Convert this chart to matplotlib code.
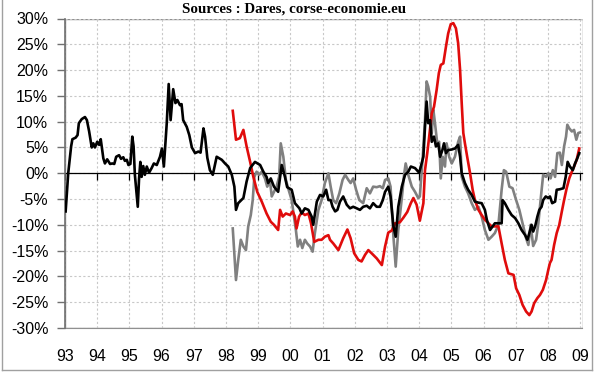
import numpy as np
import matplotlib.pyplot as plt
from matplotlib.patches import Rectangle
from matplotlib.lines import Line2D

# series: decimal years and % values
black_t = [1993.02, 1993.10, 1993.19, 1993.23, 1993.33, 1993.39, 1993.43, 1993.52, 1993.62, 1993.68,
           1993.75, 1993.83, 1993.88, 1993.93, 1994.00, 1994.06, 1994.11, 1994.19, 1994.24, 1994.31,
           1994.40, 1994.47, 1994.53, 1994.59, 1994.68, 1994.74, 1994.81, 1994.86, 1994.92, 1994.97,
           1995.03, 1995.09, 1995.13, 1995.17, 1995.26, 1995.30, 1995.34, 1995.38, 1995.43, 1995.48,
           1995.54, 1995.61, 1995.69, 1995.76, 1995.85, 1995.95, 1996.01, 1996.07, 1996.16, 1996.22,
           1996.28, 1996.36, 1996.43, 1996.49, 1996.57, 1996.62, 1996.67, 1996.78, 1996.86, 1996.94,
           1997.04, 1997.14, 1997.21, 1997.30, 1997.35, 1997.42, 1997.50, 1997.59, 1997.71, 1997.87,
           1997.97, 1998.07, 1998.18, 1998.26, 1998.31, 1998.38, 1998.54, 1998.64, 1998.75, 1998.90,
           1999.06, 1999.16, 1999.26, 1999.31, 1999.39, 1999.49, 1999.62, 1999.73, 1999.83, 1999.90,
           2000.04, 2000.14, 2000.28, 2000.35, 2000.45, 2000.56, 2000.66, 2000.71, 2000.82, 2000.92,
           2001.02, 2001.11, 2001.18, 2001.25, 2001.31, 2001.39, 2001.46, 2001.54, 2001.64, 2001.75,
           2001.85, 2001.95, 2002.06, 2002.16, 2002.26, 2002.37, 2002.47, 2002.57, 2002.68, 2002.78,
           2002.87, 2002.94, 2003.04, 2003.11, 2003.20, 2003.27, 2003.35, 2003.46, 2003.56, 2003.66,
           2003.74, 2003.87, 2004.00, 2004.13, 2004.18, 2004.23, 2004.28, 2004.34, 2004.39, 2004.46,
           2004.52, 2004.59, 2004.65, 2004.72, 2004.77, 2004.83, 2004.90, 2005.01, 2005.11, 2005.21,
           2005.27, 2005.32, 2005.42, 2005.52, 2005.63, 2005.73, 2005.84, 2005.94, 2006.04, 2006.10,
           2006.20, 2006.28, 2006.35, 2006.56, 2006.59, 2006.66, 2006.77, 2006.87, 2006.98, 2007.08,
           2007.18, 2007.29, 2007.36, 2007.42, 2007.49, 2007.54, 2007.60, 2007.67, 2007.73, 2007.80,
           2007.85, 2007.93, 2008.01, 2008.06, 2008.13, 2008.22, 2008.27, 2008.37, 2008.48, 2008.55,
           2008.61, 2008.68, 2008.77, 2008.84, 2008.91, 2008.97]
black_v = [-7.4, 0.0, 5.2, 6.6, 6.9, 7.4, 9.7, 10.5, 10.9, 10.3,
           8.1, 5.0, 5.8, 5.0, 6.1, 5.5, 6.6, 2.9, 1.9, 2.7,
           1.8, 1.9, 1.8, 3.2, 3.5, 2.8, 3.1, 2.4, 2.6, 1.6,
           1.8, 7.1, 5.2, -0.3, -6.5, -1.0, 2.2, -0.7, 1.4, -0.3,
           1.3, 0.1, 1.0, 1.9, 1.6, 3.2, 4.8, 1.3, 9.7, 17.3,
           10.3, 16.3, 13.6, 14.2, 13.2, 13.4, 10.3, 9.0, 7.4, 5.0,
           3.9, 4.2, 4.0, 8.7, 7.1, 3.0, 0.6, -0.3, 3.2, 2.6,
           1.9, 1.3, -0.3, -2.6, -7.1, -5.8, -4.8, -1.6, 1.0, 2.2,
           1.6, 0.3, -0.7, -1.9, -1.0, -2.6, -3.6, 1.6, -0.7, -2.7,
           -3.2, -5.8, -6.8, -7.8, -6.8, -7.1, -8.4, -10.0, -5.5, -4.2,
           -4.5, -3.2, -5.2, -5.2, -6.5, -7.4, -7.1, -5.5, -4.5, -6.1,
           -6.8, -6.5, -6.8, -7.1, -6.5, -6.3, -6.8, -5.8, -6.5, -6.5,
           -5.2, -3.6, -2.6, -4.5, -10.3, -12.3, -6.5, -2.6, -0.3, 0.3,
           1.3, 1.0, 0.1, 3.2, 9.0, 13.9, 9.7, 10.3, 6.1, 7.1,
           5.2, 5.8, 3.2, 4.5, 5.8, 3.9, 4.5, 4.6, 4.8, 5.5,
           3.2, 0.0, -1.9, -3.2, -4.2, -5.5, -5.7, -5.8, -7.1, -9.0,
           -11.0, -10.3, -9.7, -9.7, -5.2, -5.8, -7.1, -8.1, -8.7, -9.7,
           -11.0, -12.0, -12.9, -11.6, -10.0, -11.3, -10.3, -8.4, -7.1, -6.5,
           -5.2, -4.5, -4.8, -4.5, -5.8, -5.5, -3.2, -3.1, -2.9, -0.7,
           2.2, 1.3, 0.6, 1.9, 2.9, 3.9]

grey_t = [1998.21, 1998.31, 1998.38, 1998.46, 1998.54, 1998.62, 1998.69, 1998.77, 1998.83, 1998.88,
          1998.95, 1999.03, 1999.11, 1999.21, 1999.28, 1999.37, 1999.42, 1999.49, 1999.57, 1999.65,
          1999.70, 1999.78, 1999.86, 1999.93, 2000.04, 2000.11, 2000.17, 2000.23, 2000.30, 2000.37,
          2000.45, 2000.52, 2000.61, 2000.69, 2000.76, 2000.87, 2000.97, 2001.07, 2001.18, 2001.25,
          2001.33, 2001.42, 2001.52, 2001.62, 2001.70, 2001.80, 2001.87, 2001.95, 2002.04, 2002.14,
          2002.26, 2002.37, 2002.47, 2002.57, 2002.68, 2002.78, 2002.87, 2002.94, 2003.04, 2003.11,
          2003.20, 2003.27, 2003.35, 2003.46, 2003.53, 2003.58, 2003.66, 2003.77, 2003.87, 2003.97,
          2004.02, 2004.11, 2004.18, 2004.23, 2004.28, 2004.34, 2004.39, 2004.44, 2004.49, 2004.56,
          2004.62, 2004.67, 2004.73, 2004.80, 2004.85, 2004.93, 2005.01, 2005.11, 2005.21, 2005.27,
          2005.32, 2005.42, 2005.52, 2005.63, 2005.73, 2005.84, 2005.94, 2006.04, 2006.15, 2006.25,
          2006.35, 2006.46, 2006.56, 2006.63, 2006.70, 2006.80, 2006.90, 2007.01, 2007.11, 2007.21,
          2007.32, 2007.39, 2007.46, 2007.54, 2007.63, 2007.70, 2007.77, 2007.85, 2007.94, 2008.01,
          2008.08, 2008.15, 2008.22, 2008.29, 2008.37, 2008.43, 2008.50, 2008.56, 2008.60, 2008.66,
          2008.74, 2008.81, 2008.88, 2008.94, 2008.99]
grey_v = [-10.7, -20.7, -16.8, -12.9, -14.2, -14.9, -10.3, -8.1, -5.2, -0.7,
          0.3, -0.3, 0.3, -1.0, -2.6, -1.6, -4.5, -3.6, -2.6, -0.7,
          5.8, 3.2, -1.3, -2.9, -5.2, -8.4, -11.0, -14.2, -12.9, -14.5,
          -12.9, -13.6, -14.2, -15.2, -11.6, -7.1, -5.2, -1.9, 0.0, -2.6,
          -5.2, -5.8, -3.9, -1.3, -0.3, -1.3, -1.9, -1.0, -3.2, -5.2,
          -5.8, -2.9, -3.9, -2.6, -2.7, -2.5, -2.9, -1.3, -1.0, -2.6,
          -12.3, -18.1, -11.0, -4.8, -0.3, 1.9, -0.3, -2.6, -3.6, -4.8,
          -4.5, 3.2, 10.3, 17.8, 16.8, 14.8, 7.8, 12.3, 9.7, 5.8,
          6.1, -1.0, 3.2, 1.3, 5.8, 3.2, 1.9, 3.2, 6.1, 7.1,
          -0.7, -2.6, -3.9, -5.8, -7.1, -6.5, -8.4, -11.0, -12.9, -12.3,
          -11.6, -10.0, -3.2, 0.6, 0.3, -2.6, -2.9, -5.2, -7.1, -9.7,
          -12.6, -13.9, -10.0, -14.1, -12.9, -9.7, -5.2, -0.3, -0.7, 0.0,
          -1.0, 0.6, -0.7, 3.9, 4.0, 1.6, 5.2, 7.1, 9.4, 8.7,
          8.1, 8.4, 6.5, 7.8, 7.9]

red_t = [1998.21, 1998.31, 1998.43, 1998.54, 1998.64, 1998.75, 1998.85, 1998.97, 1999.11, 1999.26,
         1999.39, 1999.49, 1999.62, 1999.68, 1999.76, 1999.86, 1999.99, 2000.07, 2000.14, 2000.19,
         2000.27, 2000.35, 2000.45, 2000.56, 2000.64, 2000.74, 2000.87, 2000.97, 2001.07, 2001.18,
         2001.23, 2001.33, 2001.49, 2001.64, 2001.77, 2001.87, 2001.98, 2002.11, 2002.21, 2002.32,
         2002.42, 2002.52, 2002.68, 2002.84, 2002.94, 2003.04, 2003.15, 2003.25, 2003.40, 2003.51,
         2003.63, 2003.74, 2003.82, 2003.92, 2004.02, 2004.13, 2004.18, 2004.25, 2004.31, 2004.39,
         2004.46, 2004.54, 2004.61, 2004.67, 2004.75, 2004.83, 2004.90, 2004.98, 2005.06, 2005.14,
         2005.21, 2005.27, 2005.32, 2005.37, 2005.42, 2005.49, 2005.58, 2005.66, 2005.73, 2005.84,
         2005.94, 2006.04, 2006.15, 2006.25, 2006.46, 2006.56, 2006.66, 2006.77, 2006.93, 2007.01,
         2007.11, 2007.21, 2007.32, 2007.42, 2007.49, 2007.57, 2007.67, 2007.75, 2007.84, 2007.94,
         2008.01, 2008.06, 2008.11, 2008.19, 2008.27, 2008.35, 2008.43, 2008.50, 2008.58, 2008.66,
         2008.74, 2008.81, 2008.89, 2008.97]
red_v = [12.1, 6.5, 6.8, 8.4, 5.2, 2.2, -0.7, -3.6, -5.5, -7.8,
         -9.4, -10.0, -11.0, -7.1, -8.4, -7.8, -8.1, -7.4, -8.4, -10.7,
         -8.4, -7.6, -8.1, -7.8, -9.7, -13.3, -12.9, -12.9, -12.3, -12.0,
         -12.9, -13.6, -14.9, -12.6, -10.9, -12.6, -15.5, -16.8, -17.1, -15.8,
         -14.9, -15.5, -16.5, -17.8, -14.2, -11.5, -11.1, -9.7, -9.5, -8.6,
         -7.5, -5.8, -4.8, -6.1, -9.2, -5.8, 0.6, 3.9, 7.1, 11.6,
         12.9, 16.1, 19.4, 21.0, 21.3, 24.5, 27.1, 28.9, 29.1, 28.1,
         25.2, 20.0, 13.6, 7.8, 5.8, 3.2, 0.0, -3.2, -5.2, -7.1,
         -8.1, -9.0, -9.7, -10.3, -10.3, -13.6, -16.8, -19.4, -19.7, -22.3,
         -23.6, -25.5, -26.8, -27.5, -26.8, -25.2, -24.2, -23.6, -22.6, -20.7,
         -18.7, -17.4, -16.8, -13.9, -11.6, -10.0, -7.4, -5.2, -2.9, -1.0,
         0.3, 1.3, 2.6, 4.8]

years = list(range(1993, 2010))
year_labels = ['%02d' % (y % 100) for y in years]
pct_ticks = list(range(-30, 35, 5))
pct_labels = ['%d%%' % p for p in pct_ticks]

plt.rcParams['font.family'] = ['Liberation Sans', 'DejaVu Sans']

fig = plt.figure(figsize=(6, 3.72), dpi=100)
ax = fig.add_axes([65 / 600, 44 / 372, 517.5 / 600, 309.5 / 372])

ax.plot(grey_t, grey_v, color='#808080', lw=1.9, zorder=3)
ax.plot(red_t, red_v, color='#e00c0c', lw=1.9, zorder=4)
ax.plot(black_t, black_v, color='black', lw=1.9, zorder=5)

ax.set_xlim(1993.0, 1993 + 517.5 / 32.2)
ax.set_ylim(-30, 30)
ax.set_yticks(pct_ticks)
ax.set_yticklabels(pct_labels, fontsize=11.5)
ax.set_xticks(years)
ax.grid(True, linestyle=(0, (2, 2)), color='#c8c8c8', lw=0.8, zorder=0)

# zero line acts as the category axis, with small ticks pointing down
ax.spines['bottom'].set_position(('data', 0))
ax.spines['bottom'].set_color('black')
ax.spines['bottom'].set_linewidth(0.9)
ax.spines['bottom'].set_zorder(2)
ax.tick_params(axis='x', direction='out', length=5, width=0.9, labelbottom=False)
ax.spines['top'].set_visible(False)
ax.spines['right'].set_visible(False)
ax.spines['left'].set_color('#707070')
ax.spines['left'].set_linewidth(1.2)
ax.tick_params(axis='y', direction='out', length=6, width=1.0, color='#707070', pad=6)

sec = ax.secondary_xaxis(0.0)
sec.set_xticks(years)
sec.set_xticklabels(year_labels, fontsize=11.5)
sec.tick_params(length=0, pad=15)
sec.spines['bottom'].set_color('#909090')

ax.add_patch(Rectangle((0, 0), 1, 1, transform=ax.transAxes, fill=False,
                       edgecolor='#909090', lw=1.0, zorder=1))

fig.text(294 / 600, 1 - 9.5 / 372, 'Sources : Dares, corse-economie.eu', ha='center', va='center',
         family='Liberation Serif', fontweight='bold', fontsize=10.8)

# outer frame of the picture
for xs, ys in [([2, 2], [0, 370]), ([592, 592], [0, 370]), ([2, 592], [370, 370])]:
    fig.add_artist(Line2D([x / 600 for x in xs], [1 - y / 372 for y in ys],
                          color='#a0a0a0', lw=1.0))

fig.savefig('out.png', dpi=100)
